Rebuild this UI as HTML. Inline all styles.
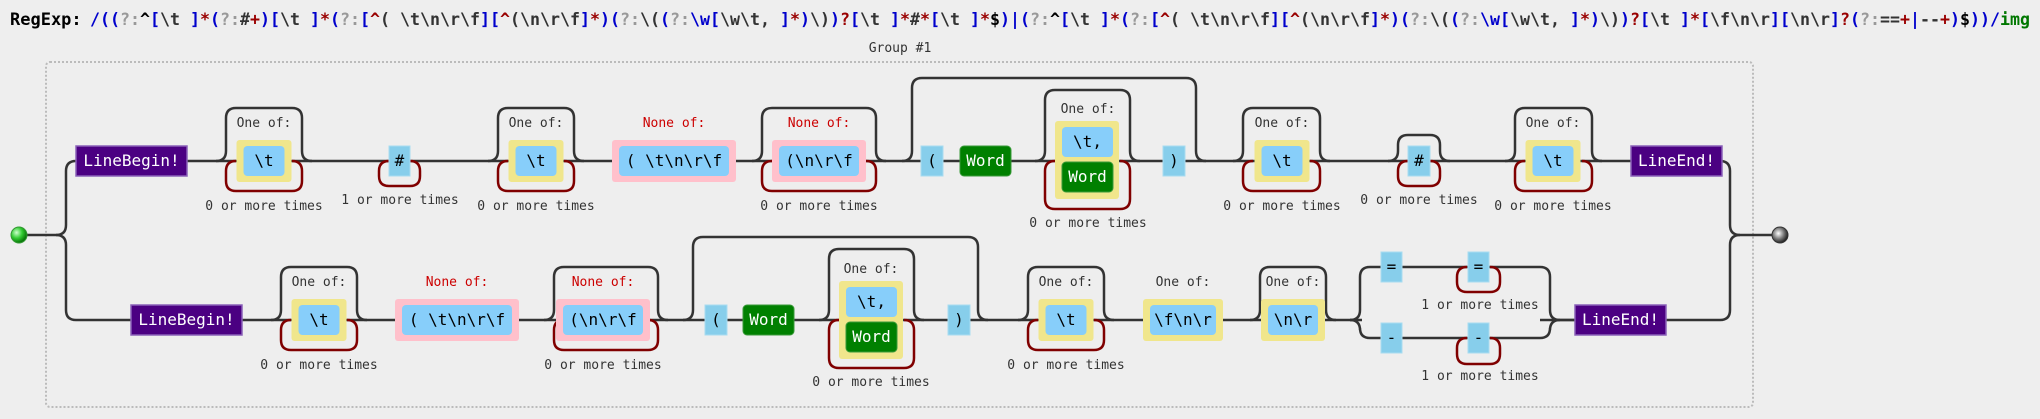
<!DOCTYPE html>
<html><head><meta charset="utf-8"><style>
html,body{margin:0;padding:0;background:#eee;width:2040px;height:419px;overflow:hidden}
svg{display:block}
text{font-family:"DejaVu Sans Mono","Liberation Mono",monospace}
</style></head><body>
<svg id="s" width="2040" height="419" viewBox="0 0 2040 419" xmlns="http://www.w3.org/2000/svg">
<defs>
<radialGradient id="gs" cx="0.35" cy="0.35" r="0.7"><stop offset="0" stop-color="#cfc"/><stop offset="0.5" stop-color="#3c3"/><stop offset="1" stop-color="#060"/></radialGradient>
<radialGradient id="ge" cx="0.4" cy="0.4" r="0.7"><stop offset="0" stop-color="#fff"/><stop offset="0.5" stop-color="#777"/><stop offset="1" stop-color="#000"/></radialGradient>
</defs>
<text x="10" y="25" font-size="17" font-weight="bold" fill="#000">RegExp:</text>
<text x="90" y="25" font-size="16.5" font-weight="bold" textLength="1940" lengthAdjust="spacingAndGlyphs"><tspan fill="#00c">/((</tspan><tspan fill="#999">?:</tspan><tspan fill="#000">^</tspan><tspan fill="#00c">[</tspan><tspan fill="#333">\t </tspan><tspan fill="#00c">]</tspan><tspan fill="#900">*</tspan><tspan fill="#00c">(</tspan><tspan fill="#999">?:</tspan><tspan fill="#333">#</tspan><tspan fill="#900">+</tspan><tspan fill="#00c">)[</tspan><tspan fill="#333">\t </tspan><tspan fill="#00c">]</tspan><tspan fill="#900">*</tspan><tspan fill="#00c">(</tspan><tspan fill="#999">?:</tspan><tspan fill="#00c">[</tspan><tspan fill="#900">^</tspan><tspan fill="#333">( \t\n\r\f</tspan><tspan fill="#00c">][</tspan><tspan fill="#900">^</tspan><tspan fill="#333">(\n\r\f</tspan><tspan fill="#00c">]</tspan><tspan fill="#900">*</tspan><tspan fill="#00c">)(</tspan><tspan fill="#999">?:</tspan><tspan fill="#333">\(</tspan><tspan fill="#00c">(</tspan><tspan fill="#999">?:</tspan><tspan fill="#00c">\w[</tspan><tspan fill="#333">\w\t, </tspan><tspan fill="#00c">]</tspan><tspan fill="#900">*</tspan><tspan fill="#00c">)</tspan><tspan fill="#333">\)</tspan><tspan fill="#00c">)</tspan><tspan fill="#900">?</tspan><tspan fill="#00c">[</tspan><tspan fill="#333">\t </tspan><tspan fill="#00c">]</tspan><tspan fill="#900">*</tspan><tspan fill="#333">#</tspan><tspan fill="#900">*</tspan><tspan fill="#00c">[</tspan><tspan fill="#333">\t </tspan><tspan fill="#00c">]</tspan><tspan fill="#900">*</tspan><tspan fill="#000">$</tspan><tspan fill="#00c">)|(</tspan><tspan fill="#999">?:</tspan><tspan fill="#000">^</tspan><tspan fill="#00c">[</tspan><tspan fill="#333">\t </tspan><tspan fill="#00c">]</tspan><tspan fill="#900">*</tspan><tspan fill="#00c">(</tspan><tspan fill="#999">?:</tspan><tspan fill="#00c">[</tspan><tspan fill="#900">^</tspan><tspan fill="#333">( \t\n\r\f</tspan><tspan fill="#00c">][</tspan><tspan fill="#900">^</tspan><tspan fill="#333">(\n\r\f</tspan><tspan fill="#00c">]</tspan><tspan fill="#900">*</tspan><tspan fill="#00c">)(</tspan><tspan fill="#999">?:</tspan><tspan fill="#333">\(</tspan><tspan fill="#00c">(</tspan><tspan fill="#999">?:</tspan><tspan fill="#00c">\w[</tspan><tspan fill="#333">\w\t, </tspan><tspan fill="#00c">]</tspan><tspan fill="#900">*</tspan><tspan fill="#00c">)</tspan><tspan fill="#333">\)</tspan><tspan fill="#00c">)</tspan><tspan fill="#900">?</tspan><tspan fill="#00c">[</tspan><tspan fill="#333">\t </tspan><tspan fill="#00c">]</tspan><tspan fill="#900">*</tspan><tspan fill="#00c">[</tspan><tspan fill="#333">\f\n\r</tspan><tspan fill="#00c">][</tspan><tspan fill="#333">\n\r</tspan><tspan fill="#00c">]</tspan><tspan fill="#900">?</tspan><tspan fill="#00c">(</tspan><tspan fill="#999">?:</tspan><tspan fill="#333">==</tspan><tspan fill="#900">+</tspan><tspan fill="#00c">|</tspan><tspan fill="#333">--</tspan><tspan fill="#900">+</tspan><tspan fill="#00c">)</tspan><tspan fill="#000">$</tspan><tspan fill="#00c">))/</tspan><tspan fill="#070">img</tspan></text>
<text x="900" y="52" font-size="13" fill="#333" text-anchor="middle">Group #1</text>
<rect x="46" y="62" width="1707" height="345" rx="4" fill="none" stroke="#bbb" stroke-width="2" stroke-dasharray="2,2"/>
</svg>
<script>
var S=document.getElementById('s');
var NS='http://www.w3.org/2000/svg';
function mk(tag,a,name,parent){var e=document.createElementNS(NS,tag);for(var k in a)e.setAttribute(k,a[k]);


(parent||S).appendChild(e);return e;}
function path(d,name,col){return mk('path',{d:d,fill:'none',stroke:col||'#333','stroke-width':2.5},name);}
function txt(x,y,t,size,fill,name){var e=mk('text',{x:x,y:y,'font-size':size,fill:fill,'text-anchor':'middle'},name);e.textContent=t;return e;}
// skip bracket above: x1..x2 main y, top
function skip(x1,x2,y,top,name){path('M'+x1+','+y+' q10,0 10,-10 V'+(top+10)+' q0,-10 10,-10 H'+(x2-20)+' q10,0 10,10 V'+(y-10)+' q0,10 10,10',name);}
// loop below
function loop(x1,x2,y,bot,name){path('M'+(x1+10)+','+y+' q-10,0 -10,10 V'+(bot-10)+' q0,10 10,10 H'+(x2-10)+' q10,0 10,-10 V'+(y+10)+' q0,-10 -10,-10',name,'#800000');}
function lit(x,y,w,t,name){mk('rect',{x:x,y:y,width:w,height:30,fill:'#87ceeb',stroke:'#a8dcf0','stroke-width':1},name);txt(x+w/2,y+20,t,16,'#000',name+'-text');}
function anchor(x,y,w,t,name){mk('rect',{x:x,y:y,width:w,height:30,fill:'#4b0082',stroke:'#8a60b8','stroke-width':1.5},name);txt(x+w/2,y+20,t,16,'#fff',name+'-text');}
function word(x,y,w,name){mk('rect',{x:x,y:y,width:w,height:30,rx:4,fill:'#008000',stroke:'#3a9a3a','stroke-width':1},name);txt(x+w/2,y+20,'Word',16,'#fff',name+'-text');}
function cls(x,y,w,t,name){mk('rect',{x:x,y:y,width:w,height:30,rx:4,fill:'#87cefa'},name);txt(x+w/2,y+20,t,16,'#000',name+'-text');}
function oneof(cx,y,w,t,name,lbl,lblcol,bg){var W=w+14;mk('rect',{x:cx-W/2,y:y-21,width:W,height:42,rx:3,fill:bg||'#f0e68c'},name+'-set');cls(cx-w/2,y-15,w,t,name);txt(cx,y-34,lbl||'One of:',13,lblcol||'#333',name+'-label');}
function cap(cx,y,t,name){txt(cx,y,t,13,'#333',name);}

// main lines
var T=161,B=320;
path('M27,235 H56 q10,0 10,-10 V'+(T+10)+' q0,-10 10,-10 H1720 q10,0 10,10 V225 q0,10 10,10 H1772','top-rail');
path('M56,235 q10,0 10,10 V'+(B-10)+' q0,10 10,10 H1362','bottom-rail');
path('M1540,'+B+' H1720 q10,0 10,-10 V245 q0,-10 10,-10','bottom-rail-end');
mk('circle',{cx:19,cy:235,r:8,fill:'url(#gs)',stroke:'#393','stroke-width':1},'start-node');
mk('circle',{cx:1780,cy:235,r:8,fill:'url(#ge)',stroke:'#333','stroke-width':1},'end-node');

// ---- top row ----
anchor(76,146,111,'LineBegin!','top-line-begin');
skip(216,312,T,108,'top-tab-skip');loop(226,302,T,191,'top-tab-loop');oneof(264,T,41,'\\t','top-tab-class');cap(264,210,'0 or more times','top-tab-caption');
loop(379,420,T,186,'hash-loop');lit(389,146,21,'#','hash-literal');cap(400,204,'1 or more times','hash-caption');
skip(488,584,T,108,'top-tab2-skip');loop(498,574,T,191,'top-tab2-loop');oneof(536,T,41,'\\t','top-tab2-class');cap(536,210,'0 or more times','top-tab2-caption');
oneof(674,T,110,'( \\t\\n\\r\\f','top-noneof1','None of:','#c00','#ffc0cb');
skip(752,886,T,108,'top-noneof2-skip');loop(762,876,T,191,'top-noneof2-loop');oneof(819,T,80,'(\\n\\r\\f','top-noneof2','None of:','#c00','#ffc0cb');cap(819,210,'0 or more times','top-noneof2-caption');
skip(902,1206,T,78,'top-paren-skip');
lit(921,146,22,'(','top-open-paren');word(960,146,51,'top-word');
skip(1035,1140,T,90,'top-args-skip');loop(1045,1130,T,209,'top-args-loop');
mk('rect',{x:1055,y:121,width:64,height:78,rx:3,fill:'#f0e68c'},'top-args-set');cls(1062,127,51,'\\t,','top-args-tab-comma');word(1062,162,51,'top-args-word');txt(1088,113,'One of:',13,'#333','top-args-label');cap(1088,227,'0 or more times','top-args-caption');
lit(1163,146,22,')','top-close-paren');
skip(1233,1330,T,108,'top-tab3-skip');loop(1243,1320,T,191,'top-tab3-loop');oneof(1282,T,41,'\\t','top-tab3-class');cap(1282,210,'0 or more times','top-tab3-caption');
skip(1388,1450,T,135,'hash2-skip');loop(1398,1440,T,186,'hash2-loop');lit(1408,146,22,'#','hash2-literal');cap(1419,204,'0 or more times','hash2-caption');
skip(1505,1602,T,108,'top-tab4-skip');loop(1515,1592,T,191,'top-tab4-loop');oneof(1553,T,41,'\\t','top-tab4-class');cap(1553,210,'0 or more times','top-tab4-caption');
anchor(1631,146,91,'LineEnd!','top-line-end');

// ---- bottom row ----
anchor(131,305,111,'LineBegin!','bottom-line-begin');
skip(271,367,B,267,'bot-tab-skip');loop(281,357,B,350,'bot-tab-loop');oneof(319,B,41,'\\t','bot-tab-class');cap(319,369,'0 or more times','bot-tab-caption');
oneof(457,B,110,'( \\t\\n\\r\\f','bot-noneof1','None of:','#c00','#ffc0cb');
skip(544,668,B,267,'bot-noneof2-skip');loop(554,658,B,350,'bot-noneof2-loop');oneof(603,B,80,'(\\n\\r\\f','bot-noneof2','None of:','#c00','#ffc0cb');cap(603,369,'0 or more times','bot-noneof2-caption');
skip(683,988,B,237,'bot-paren-skip');
lit(705,305,22,'(','bot-open-paren');word(743,305,51,'bot-word');
skip(819,924,B,249,'bot-args-skip');loop(829,914,B,368,'bot-args-loop');
mk('rect',{x:839,y:281,width:64,height:78,rx:3,fill:'#f0e68c'},'bot-args-set');cls(846,287,51,'\\t,','bot-args-tab-comma');word(846,322,51,'bot-args-word');txt(871,273,'One of:',13,'#333','bot-args-label');cap(871,386,'0 or more times','bot-args-caption');
lit(948,305,22,')','bot-close-paren');
skip(1018,1114,B,267,'bot-tab2-skip');loop(1028,1104,B,350,'bot-tab2-loop');oneof(1066,B,41,'\\t','bot-tab2-class');cap(1066,369,'0 or more times','bot-tab2-caption');
oneof(1183,B,66,'\\f\\n\\r','bot-fnr-class');
skip(1250,1336,B,267,'bot-nr-skip');oneof(1293,B,50,'\\n\\r','bot-nr-class');
// alternation
path('M1350,'+B+' q10,0 10,-10 V277 q0,-10 10,-10 H1540 q10,0 10,10 V310 q0,10 10,10 H1575','alt-top-branch');
path('M1350,'+B+' q10,0 10,10 V328 q0,10 10,10 H1540 q10,0 10,-10 V330 q0,-10 10,-10','alt-bottom-branch');
lit(1381,252,21,'=','eq-literal');loop(1457,1500,267,292,'eq-loop');lit(1468,252,21,'=','eq-literal-2');cap(1480,309,'1 or more times','eq-caption');
lit(1381,323,21,'-','dash-literal');loop(1457,1500,338,364,'dash-loop');lit(1468,323,21,'-','dash-literal-2');cap(1480,380,'1 or more times','dash-caption');
anchor(1575,305,91,'LineEnd!','bottom-line-end');
</script>
</body></html>
